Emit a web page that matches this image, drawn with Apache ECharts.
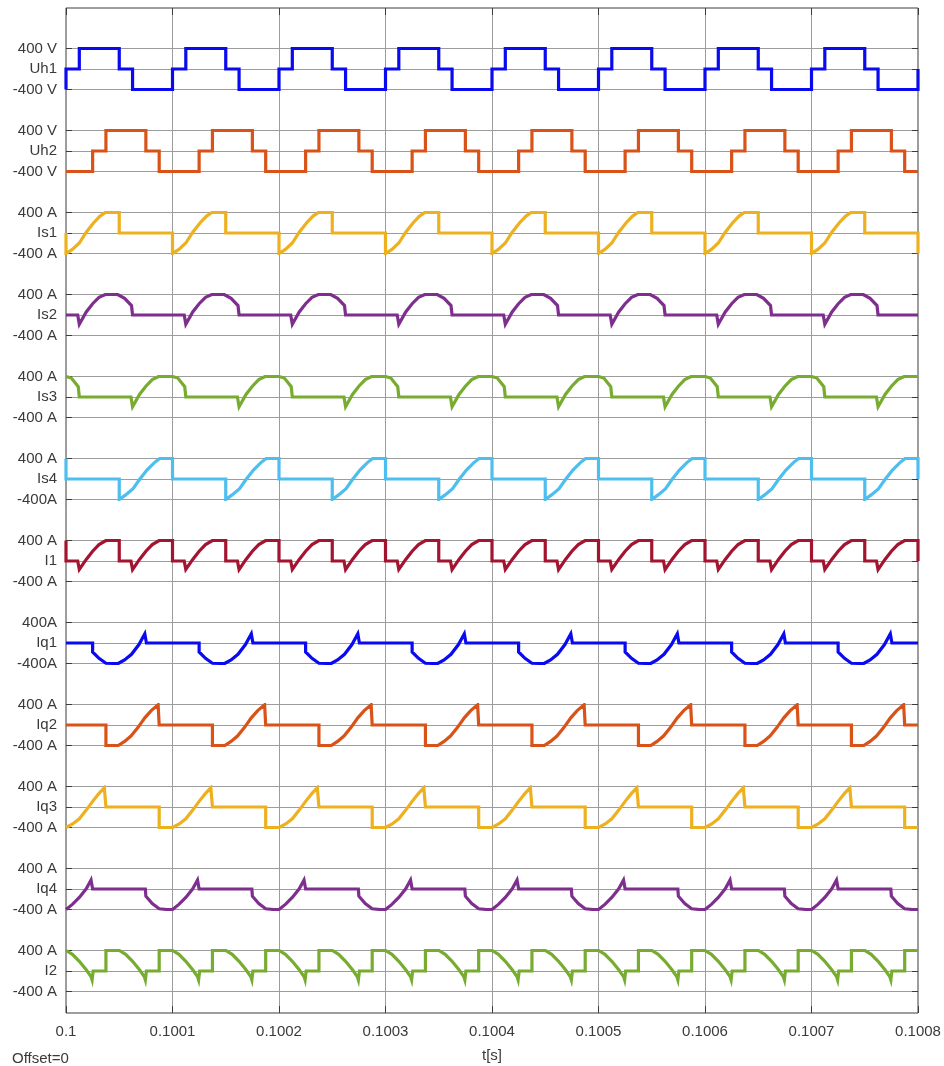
<!DOCTYPE html>
<html>
<head>
<meta charset="utf-8">
<title>Scope traces</title>
<script src="https://cdn.jsdelivr.net/npm/echarts@6/dist/echarts.min.js"></script>
<style>
  html, body { margin: 0; padding: 0; background: #ffffff; }
  #chart { width: 944px; height: 1066px; }
</style>
</head>
<body>
<div id="chart"></div>
<script>
// Time base: eight switching periods of 100 us starting at t = 0.1 s
const T0 = 0.1;
const PERIOD = 0.0001;
const N_PERIODS = 8;
const T_END = 0.1008;

// Trace names, tick texts and colours (top to bottom)
const channelNames = ['Uh1', 'Uh2', 'Is1', 'Is2', 'Is3', 'Is4', 'I1', 'Iq1', 'Iq2', 'Iq3', 'Iq4', 'I2'];
const topLabels = ['400 V', '400 V', '400 A', '400 A', '400 A', '400 A', '400 A', '400A', '400 A', '400 A', '400 A', '400 A'];
const bottomLabels = ['-400 V', '-400 V', '-400 A', '-400 A', '-400 A', '-400A', '-400 A', '-400A', '-400 A', '-400 A', '-400 A', '-400 A'];
const channelColors = ['#0a0af0', '#d95319', '#edb120', '#7e2f8e', '#77ac30', '#4dbeee',
                       '#a2142f', '#0a0af0', '#d95319', '#edb120', '#7e2f8e', '#77ac30'];

// One steady-state period of each trace: [phase within period (0..1), value]
const uh1Period = [[0, 0], [0.125, 0], [0.125, 400], [0.5, 400], [0.5, 0], [0.625, 0], [0.625, -400], [1, -400]];
const uh2Period = [[0, -400], [0.25, -400], [0.25, 0], [0.375, 0], [0.375, 400], [0.75, 400], [0.75, 0], [0.875, 0], [0.875, -400], [1, -400]];
const is1Period = [[0, -400], [0.06, -320], [0.125, -195], [0.19, 15], [0.26, 200], [0.32, 330], [0.37, 400], [0.5, 400], [0.5, 0], [1, 0]];
const is2Period = [[0, 0], [0.11, 0], [0.125, -180], [0.19, 60], [0.25, 220], [0.31, 345], [0.37, 400], [0.485, 400], [0.55, 325], [0.615, 185], [0.625, 0], [1, 0]];
const is3Period = [[0, 400], [0.05, 370], [0.115, 200], [0.125, 0], [0.61, 0], [0.625, -190], [0.69, 50], [0.75, 210], [0.81, 340], [0.87, 400], [1, 400]];
const is4Period = [[0, 0], [0.5, 0], [0.5, -400], [0.56, -310], [0.63, -190], [0.69, -10], [0.76, 175], [0.83, 320], [0.88, 400], [1, 400]];
const i1Period = [[0, 0], [0.11, 0], [0.125, -165], [0.19, 30], [0.25, 190], [0.31, 320], [0.375, 400], [0.5, 400], [0.5, 0],
                  [0.61, 0], [0.625, -170], [0.69, 30], [0.75, 190], [0.81, 320], [0.875, 400], [1, 400]];
const iq1Period = [[0, 0], [0.25, 0], [0.25, -175], [0.31, -300], [0.375, -395], [0.49, -400], [0.55, -330], [0.615, -220],
                   [0.685, -30], [0.74, 180], [0.755, 0], [1, 0]];
const iq2Period = [[0, 0], [0.375, 0], [0.375, -400], [0.49, -400], [0.55, -320], [0.61, -215], [0.675, -50], [0.74, 140],
                   [0.8, 280], [0.865, 395], [0.87, 400], [0.875, 0], [1, 0]];
const iq3Period = [[0, -400], [0.0625, -330], [0.125, -230], [0.19, -60], [0.25, 110], [0.31, 265], [0.36, 375], [0.375, 400],
                   [0.375, 0], [0.875, 0], [0.875, -400], [1, -400]];
const iq4Period = [[0, -395], [0.06, -300], [0.125, -165], [0.19, 5], [0.235, 175], [0.25, 0], [0.745, 0], [0.75, -140],
                   [0.81, -285], [0.875, -385], [0.95, -400], [1, -400]];
const i2Period = [[0, 400], [0.06, 325], [0.125, 190], [0.19, 25], [0.235, -110], [0.245, -175], [0.255, 0], [0.375, 0], [0.375, 400],
                  [0.5, 400], [0.56, 325], [0.625, 190], [0.69, 25], [0.735, -110], [0.745, -175], [0.755, 0], [0.875, 0], [0.875, 400], [1, 400]];

const periodShapes = [uh1Period, uh2Period, is1Period, is2Period, is3Period, is4Period,
                      i1Period, iq1Period, iq2Period, iq3Period, iq4Period, i2Period];

// Lay the steady-state period end to end over the visible window
function tilePeriods(shape) {
  const out = [];
  for (let p = -1; p <= N_PERIODS; p++) {
    for (const [phase, value] of shape) {
      const t = T0 + (p + phase) * PERIOD;
      if (t >= T0 - 1e-12 && t <= T_END + 1e-12) out.push([t, value]);
    }
  }
  return out;
}

const FONT = "'Liberation Sans', Arial, Helvetica, sans-serif";
const TEXT_COLOR = '#3a3a3a';
const GRID_LINE = '#9c9c9c';
const FRAME = '#3c3c3c';

const PLOT_LEFT = 66, PLOT_TOP = 8, PLOT_W = 852, PLOT_H = 1005;
const STRIP_PITCH = 82, STRIP_FIRST_TOP = 48.5, STRIP_H = 41;

const grids = [{ left: PLOT_LEFT, top: PLOT_TOP, width: PLOT_W, height: PLOT_H,
                 containLabel: false, outerBoundsMode: 'none',
                 show: true, borderColor: FRAME, borderWidth: 1, backgroundColor: 'transparent' }];
const xAxes = [
  { type: 'value', gridIndex: 0, position: 'bottom', min: T0, max: T_END, interval: PERIOD,
    axisLine: { show: false },
    axisTick: { show: true, inside: true, length: 7, lineStyle: { color: FRAME } },
    splitLine: { show: true, lineStyle: { color: GRID_LINE, width: 1 } },
    axisLabel: { color: TEXT_COLOR, fontFamily: FONT, fontSize: 15, margin: 11,
                 formatter: v => String(Number(v.toFixed(4))) },
    name: 't[s]', nameLocation: 'middle', nameGap: 35,
    nameTextStyle: { color: TEXT_COLOR, fontFamily: FONT, fontSize: 15 } },
  { type: 'value', gridIndex: 0, position: 'top', min: T0, max: T_END, interval: PERIOD,
    axisLine: { show: false }, axisLabel: { show: false }, splitLine: { show: false },
    axisTick: { show: true, inside: true, length: 7, lineStyle: { color: FRAME } } }
];
const yAxes = [{ type: 'value', gridIndex: 0, show: false, min: 0, max: 1 }];
const series = [];

channelNames.forEach((name, k) => {
  const g = k + 1;
  grids.push({ left: PLOT_LEFT, top: STRIP_FIRST_TOP + STRIP_PITCH * k, width: PLOT_W, height: STRIP_H,
               containLabel: false, outerBoundsMode: 'none' });
  xAxes.push({ type: 'value', gridIndex: g, min: T0, max: T_END, interval: PERIOD, show: false });
  const yLeftIndex = yAxes.length;
  yAxes.push({
    type: 'value', gridIndex: g, position: 'left', min: -400, max: 400, interval: 400,
    axisLine: { show: false },
    axisTick: { show: true, inside: true, length: 6, lineStyle: { color: FRAME } },
    splitLine: { show: true, lineStyle: { color: GRID_LINE, width: 1 } },
    axisLabel: { color: TEXT_COLOR, fontFamily: FONT, fontSize: 15, margin: 9,
                 formatter: v => (v > 0 ? topLabels[k] : v < 0 ? bottomLabels[k] : name) }
  });
  yAxes.push({
    type: 'value', gridIndex: g, position: 'right', min: -400, max: 400, interval: 400,
    axisLine: { show: false }, axisLabel: { show: false }, splitLine: { show: false },
    axisTick: { show: true, inside: true, length: 6, lineStyle: { color: FRAME } }
  });
  series.push({
    name: name, type: 'line', xAxisIndex: g + 1, yAxisIndex: yLeftIndex,
    data: tilePeriods(periodShapes[k]),
    showSymbol: false, symbol: 'none', silent: true,
    lineStyle: { color: channelColors[k], width: 3.2, join: 'miter' },
    z: 3
  });
});

const chart = echarts.init(document.getElementById('chart'), null, { renderer: 'canvas' });
chart.setOption({
  animation: false,
  backgroundColor: '#ffffff',
  grid: grids,
  xAxis: xAxes,
  yAxis: yAxes,
  series: series,
  graphic: [{
    type: 'text', left: 12, top: 1051,
    style: { text: 'Offset=0', fill: TEXT_COLOR, font: '15px ' + FONT }
  }]
});
</script>
</body>
</html>
